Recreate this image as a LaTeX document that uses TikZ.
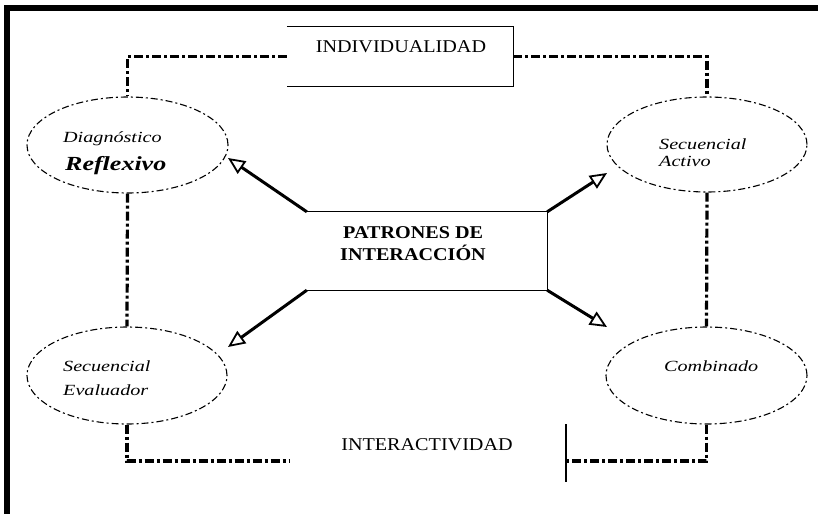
\documentclass[tikz,border=0pt]{standalone}
\usepackage{fontspec}
\setmainfont{Liberation Serif}
\newfontfamily\capfont[FakeStretch=1.12]{Liberation Serif}
\newfontfamily\itfont[FakeStretch=1.3]{Liberation Serif}
\usetikzlibrary{shapes.geometric,arrows.meta}
\begin{document}
\begin{tikzpicture}[x=1pt,y=-1pt,
  oval/.style={draw, ellipse, line width=1.1pt, dash pattern=on 7pt off 3pt on 2pt off 3pt, inner sep=0pt},
  link/.style={line width=3.2pt, dash pattern=on 9pt off 3pt on 3pt off 3pt},
  frame/.style={line width=1.3pt},
  arr/.style={line width=3pt, -{Triangle[open,length=17pt,width=15pt,line width=1.8pt]}},
  lbl/.style={inner sep=0pt, anchor=base west},
  caplbl/.style={inner sep=0pt, anchor=base, font=\capfont\fontsize{18}{20}\selectfont},
  itlbl/.style={lbl, font=\itfont\itshape\fontsize{15.5}{17}\selectfont},
  boldlbl/.style={lbl, font=\capfont\bfseries\fontsize{18}{20}\selectfont},
]
\useasboundingbox (0,0) rectangle (818,514);
\fill (4,5) rectangle (818,11);
\fill (4,5) rectangle (10,514);

% INDIVIDUALIDAD box
\node[minimum width=226pt, minimum height=59pt, inner sep=0pt] (indiv) at (400,56.5) {};
\draw[frame] (indiv.north west) -- (indiv.north east) -- (indiv.south east) -- (indiv.south west);
\node[caplbl] (indivtxt) at (401,52) {INDIVIDUALIDAD};

% ellipses
\node[oval, minimum width=201pt, minimum height=96pt] (ediag) at (127.5,145) {};
\node[oval, minimum width=200pt, minimum height=95pt] (eact) at (707,144.5) {};
\node[oval, minimum width=200pt, minimum height=97pt] (eeval) at (127,375.5) {};
\node[oval, minimum width=201pt, minimum height=97pt] (ecomb) at (706.5,375.5) {};

\node[itlbl] (tdiag) at (63,142) {Diagnóstico};
\node[lbl, font=\itfont\bfseries\itshape\fontsize{20}{22}\selectfont] (trefl) at (65,170) {Reflexivo};
\node[itlbl] (tsec1) at (659,149) {Secuencial};
\node[itlbl] (tact) at (659,166) {Activo};
\node[itlbl] (tsec2) at (63,371) {Secuencial};
\node[itlbl] (teval) at (63,395) {Evaluador};
\node[itlbl] (tcomb) at (664,371) {Combinado};

% PATRONES box
\node[minimum width=240pt, minimum height=78pt, inner sep=0pt] (patr) at (427,251) {};
\draw[frame] (patr.north west) -- (patr.north east) -- (patr.south east) -- (patr.south west);
\node[boldlbl] (tpat1) at (343,238) {PATRONES DE};
\node[boldlbl] (tpat2) at (340,260) {INTERACCIÓN};

\node[caplbl] (tinter) at (427,450) {INTERACTIVIDAD};

% connectors
\draw[link] (indiv.west) -| (ediag.north);
\draw[link] (indiv.east) -| (eact.north);
\draw[link] (ediag.south) -- (eeval.north);
\draw[link] (eact.south) -- (ecomb.north);
\coordinate (bl) at (290,461);
\coordinate (br) at (566,461);
\draw[link] (eeval.south) |- (bl);
\draw[link] (ecomb.south) |- (br);
\coordinate (tk1) at (566,424);
\coordinate (tk2) at (566,482);
\draw[frame] (tk1) -- (tk2);

% arrows
\coordinate (a1) at (228,158);
\coordinate (a2) at (607,173);
\coordinate (a3) at (228,347);
\coordinate (a4) at (607,327);
\draw[arr] (patr.north west) -- (a1);
\draw[arr] (patr.north east) -- (a2);
\draw[arr] (patr.south west) -- (a3);
\draw[arr] (patr.south east) -- (a4);
\end{tikzpicture}
\end{document}
